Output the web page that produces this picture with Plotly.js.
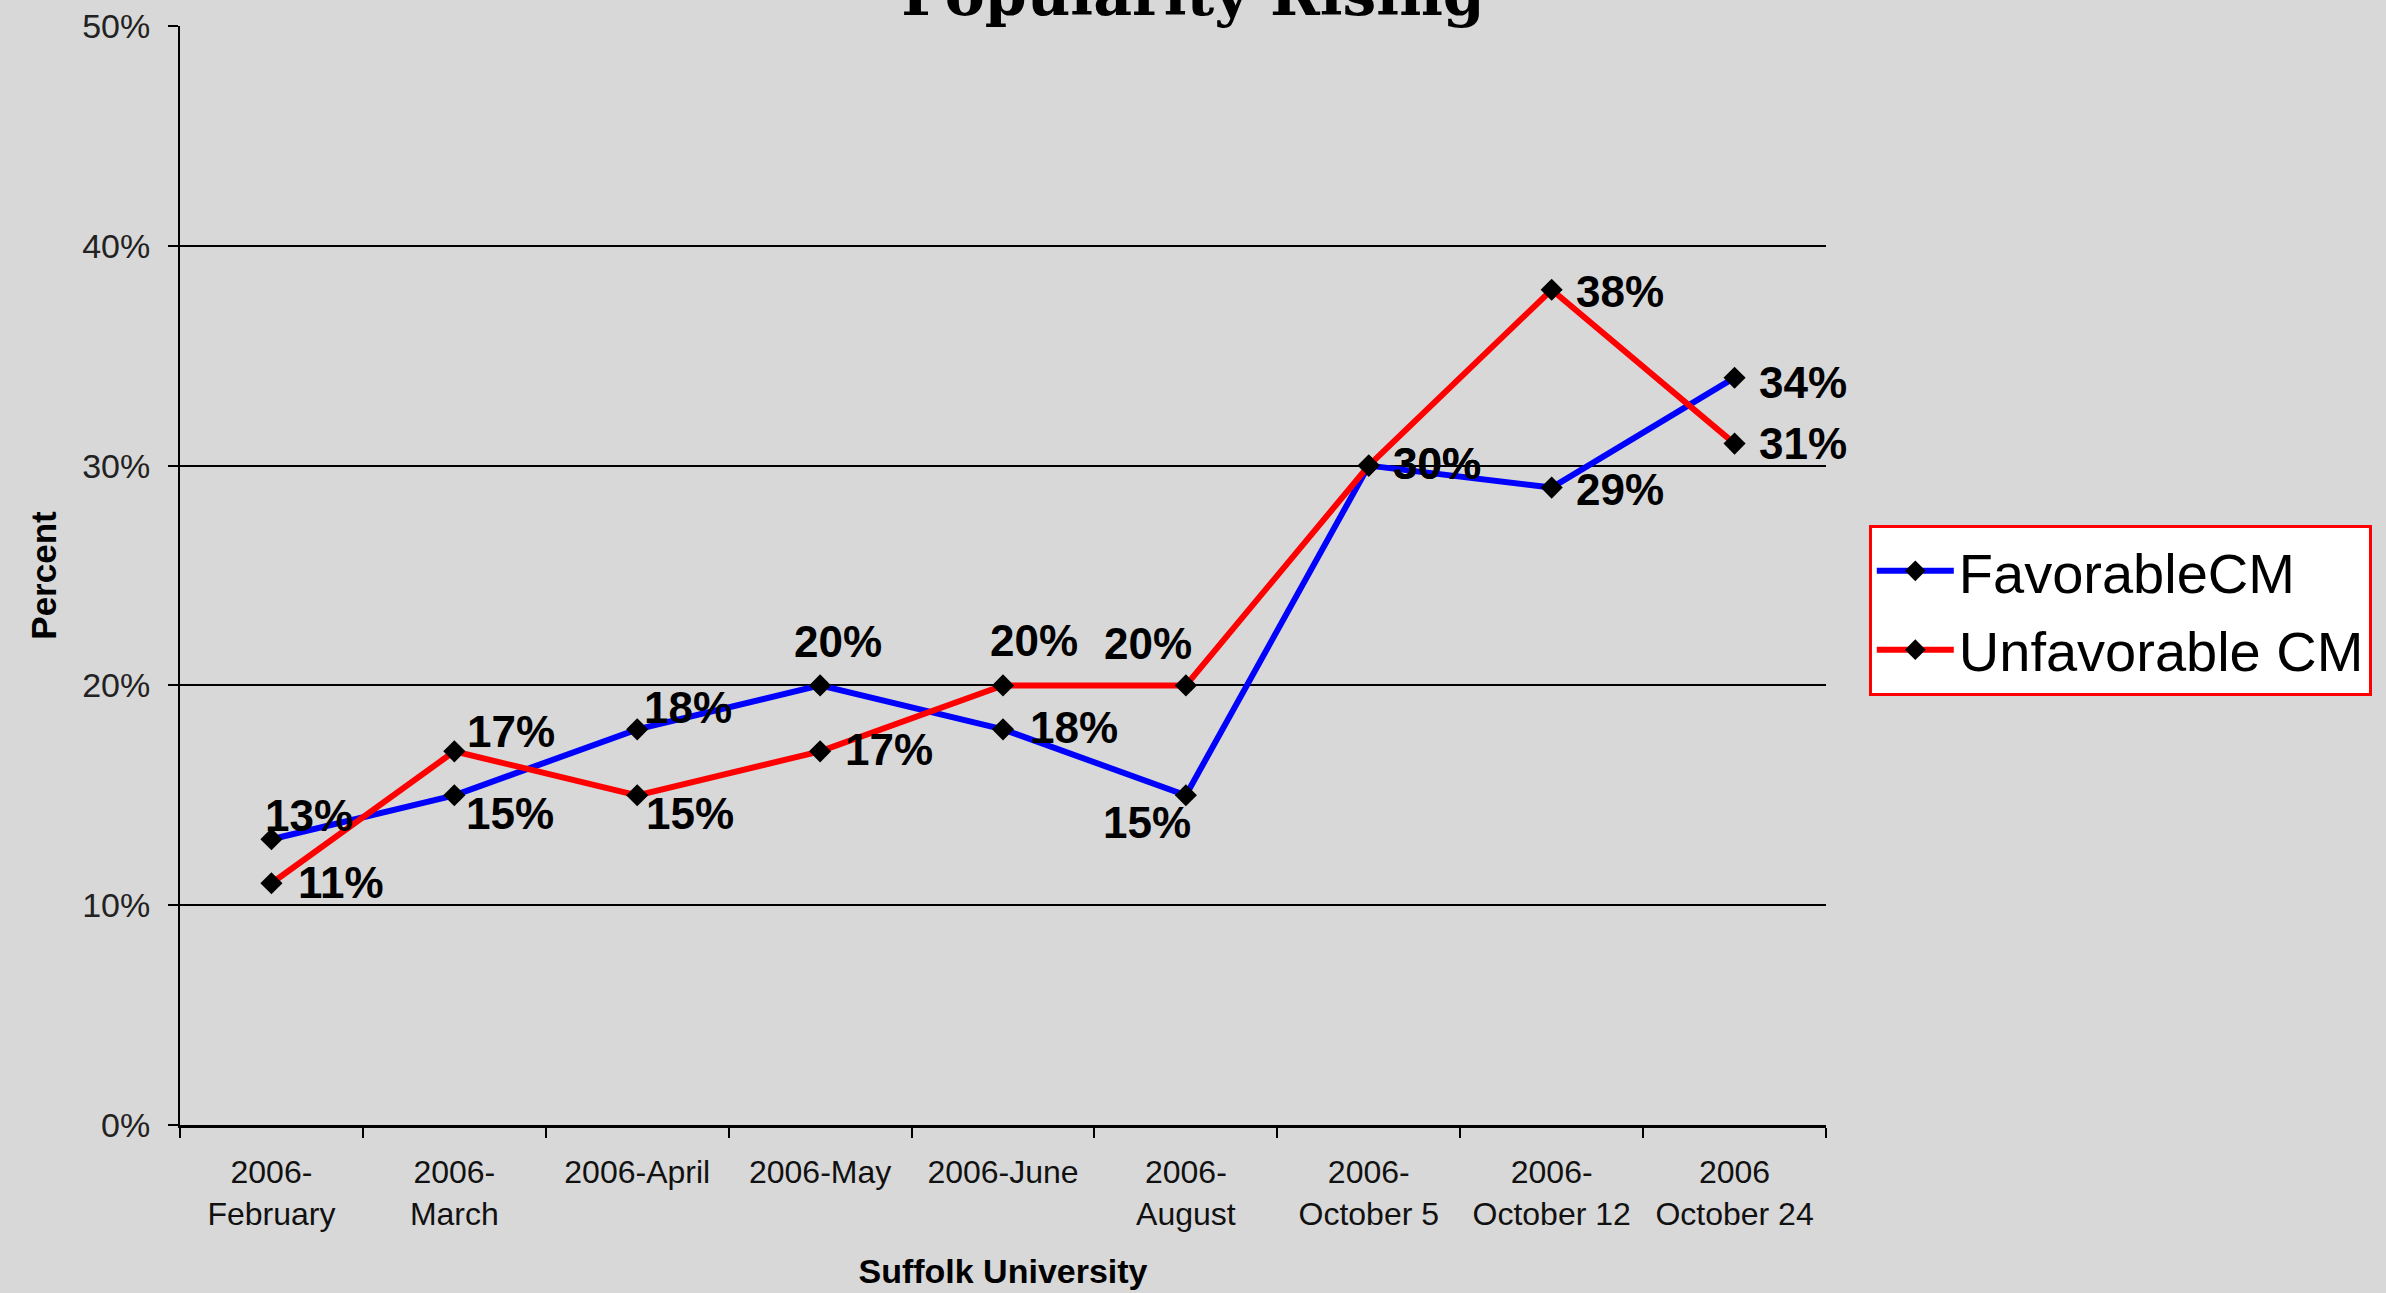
<!DOCTYPE html>
<html>
<head>
<meta charset="utf-8">
<script src="https://cdn.plot.ly/plotly-3.0.1.min.js"></script>
<style>html,body{margin:0;padding:0;background:#d8d8d8;}#chart{width:2386px;height:1293px;}</style>
</head>
<body>
<div id="chart"></div>
<script>
const categories = ["2006-<br>February", "2006-<br>March", "2006-April", "2006-May", "2006-June",
  "2006-<br>August", "2006-<br>October 5", "2006-<br>October 12", "2006<br>October 24"];
const favorable = [13, 15, 18, 20, 18, 15, 30, 29, 34];
const unfavorable = [11, 17, 15, 17, 20, 20, 30, 38, 31];
const seriesNames = ["FavorableCM", "Unfavorable CM"];
const chartTitle = "Popularity Rising";
const xTitle = "Suffolk University";
const yTitle = "Percent";

// label placement relative to each point, in pixels [dx right, dy down] of the label centre
const favLabelPlacement = [[38, -24], [56, 18], [51, -22], [18, -44], [71, -2],
  [-39, 27], [68, -2], [68, 2], [68, 5]];
const unfLabelPlacement = [[70, -1], [57, -20], [53, 18], [69, -2], [31, -45],
  [-38, -42], [68, -2], [68, 2], [68, 0]];

const baseFont = "Arial, 'Liberation Sans', sans-serif";
const labelFont = {family: baseFont, size: 44, color: "#000", weight: 700};
const markerStyle = {symbol: "diamond", size: 17, color: "#000"};

const traces = [
  {x: categories, y: favorable, name: seriesNames[0], legendgroup: "a", type: "scatter", mode: "lines+markers",
   line: {color: "#0000ff", width: 6}, marker: markerStyle},
  {x: categories, y: unfavorable, name: seriesNames[1], legendgroup: "b", type: "scatter", mode: "lines+markers",
   line: {color: "#ff0000", width: 6}, marker: markerStyle}
];

function labelAnnotations(values, placement) {
  return values.map((v, i) => ({
    x: categories[i], y: v, xref: "x", yref: "y",
    text: v + "%", showarrow: false, font: labelFont,
    xanchor: "center", yanchor: "middle",
    xshift: placement[i][0], yshift: -placement[i][1]
  }));
}

const layout = {
  width: 2386, height: 1293,
  paper_bgcolor: "#d8d8d8", plot_bgcolor: "#d8d8d8",
  margin: {l: 180, r: 560, t: 26, b: 168},
  font: {family: baseFont, color: "#000"},
  title: {text: chartTitle, font: {family: "'DejaVu Serif', serif", size: 60, weight: 700, color: "#000"},
          x: 0.5, xref: "container", xanchor: "center",
          y: 1 - 15/1293, yref: "container", yanchor: "bottom"},
  xaxis: {type: "category", range: [-0.5, 8.5], tickson: "boundaries",
          ticks: "outside", ticklen: 10, tickwidth: 2, tickcolor: "#000",
          showline: true, linecolor: "#000", linewidth: 3, showgrid: false,
          ticklabelstandoff: 17,
          tickfont: {size: 32, color: "#111"},
          title: {text: xTitle, font: {size: 34, weight: 700}, standoff: 29}},
  yaxis: {range: [0, 50], dtick: 10, ticksuffix: "%",
          ticks: "outside", ticklen: 10, tickwidth: 2, tickcolor: "#000",
          showline: true, linecolor: "#000", linewidth: 2,
          showgrid: true, gridcolor: "#000", gridwidth: 2, zeroline: false,
          ticklabelstandoff: 11,
          tickfont: {size: 34, color: "#222"},
          title: {text: yTitle, font: {size: 35, weight: 700}, standoff: 15}},
  legend: {x: 1.026, xanchor: "left", y: 0.546, yanchor: "top",
           bgcolor: "#ffffff", bordercolor: "#ff0000", borderwidth: 3,
           font: {size: 56, color: "#000"}, itemwidth: 77, tracegroupgap: 3},
  showlegend: true,
  annotations: labelAnnotations(favorable, favLabelPlacement)
    .concat(labelAnnotations(unfavorable, unfLabelPlacement))
};

Plotly.newPlot("chart", traces, layout, {displayModeBar: false, staticPlot: true});
</script>
</body>
</html>
